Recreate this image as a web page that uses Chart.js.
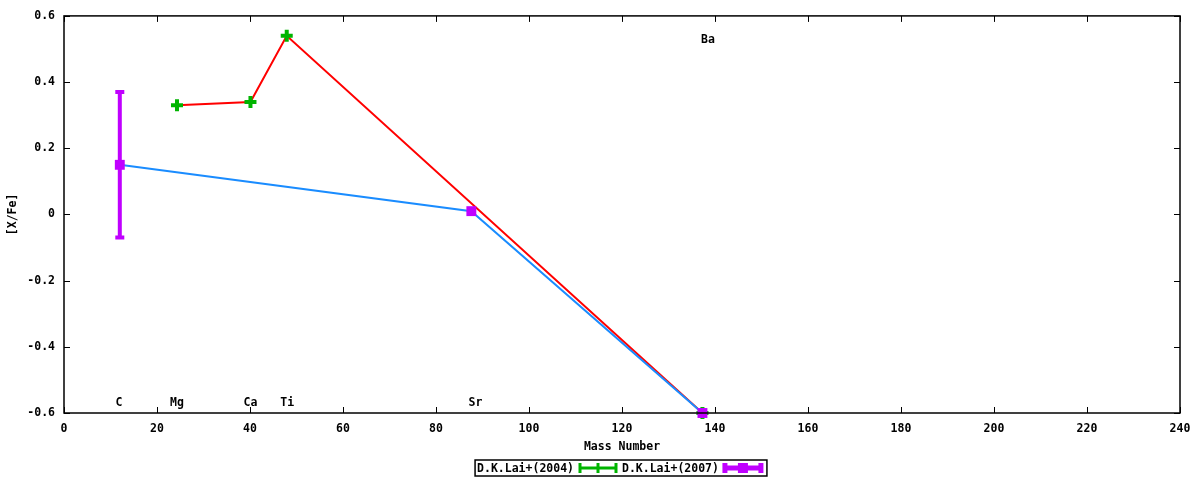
<!DOCTYPE html>
<html>
<head>
<meta charset="utf-8">
<script src="https://cdn.jsdelivr.net/npm/chart.js@4"></script>
<style>
  html, body { margin: 0; padding: 0; background: #fff; }
  #wrap { width: 1200px; height: 480px; }
</style>
</head>
<body>
<div id="wrap"><canvas id="abundChart" width="1200" height="480"></canvas></div>
<script>
// D.K.Lai+(2004)
let mass2004 = [24.3, 40.1, 47.9, 137.3];
let xfe2004 = [0.33, 0.34, 0.54, -0.6];
// D.K.Lai+(2007)
let mass2007 = [12.0, 87.6, 137.3];
let xfe2007 = [0.15, 0.01, -0.6];
let err2007 = [0.22, 0, 0];

// element labels
let labelNames = ["C", "Mg", "Ca", "Ti", "Sr", "Ba"];
let labelMass = [11.8, 24.3, 40.1, 48, 88.5, 138.5];
let labelY = [-0.57, -0.57, -0.57, -0.57, -0.57, 0.528];

let xTicks = [0, 20, 40, 60, 80, 100, 120, 140, 160, 180, 200, 220, 240];
let yTicks = [-0.6, -0.4, -0.2, 0, 0.2, 0.4, 0.6];

let FONT = "DejaVu Sans Mono";
let GREEN = "#00b400";
let RED = "#ff0000";
let PURPLE = "#c000ff";
let BLUE = "#1a8cff";

function toPoints(xs, ys) {
  return xs.map((x, i) => ({ x: x, y: ys[i] }));
}

// frame, inward ticks, error bars, element labels, legend
let gnuplotPlugin = {
  id: "gnuplotStyle",
  beforeDatasetsDraw(chart) {
    let ctx = chart.ctx;
    let xs = chart.scales.x;
    let ys = chart.scales.y;
    // error bars for 2007
    ctx.save();
    ctx.strokeStyle = PURPLE;
    ctx.lineWidth = 4;
    for (let i = 0; i < mass2007.length; i++) {
      if (!err2007[i]) continue;
      let px = xs.getPixelForValue(mass2007[i]);
      let top = ys.getPixelForValue(xfe2007[i] + err2007[i]);
      let bot = ys.getPixelForValue(xfe2007[i] - err2007[i]);
      ctx.beginPath();
      ctx.moveTo(px, top);
      ctx.lineTo(px, bot);
      ctx.moveTo(px - 4.5, top);
      ctx.lineTo(px + 4.5, top);
      ctx.moveTo(px - 4.5, bot);
      ctx.lineTo(px + 4.5, bot);
      ctx.stroke();
    }
    ctx.restore();
  },
  afterDraw(chart) {
    let ctx = chart.ctx;
    let a = chart.chartArea;
    let xs = chart.scales.x;
    let ys = chart.scales.y;
    ctx.save();
    ctx.strokeStyle = "#000";
    ctx.lineWidth = 1.5;
    ctx.strokeRect(a.left, a.top, a.right - a.left, a.bottom - a.top);
    ctx.beginPath();
    xTicks.forEach((t) => {
      let px = Math.round(xs.getPixelForValue(t)) + 0.5;
      ctx.moveTo(px, a.bottom);
      ctx.lineTo(px, a.bottom - 6);
      ctx.moveTo(px, a.top);
      ctx.lineTo(px, a.top + 6);
    });
    yTicks.forEach((t) => {
      let py = Math.round(ys.getPixelForValue(t)) + 0.5;
      ctx.moveTo(a.left, py);
      ctx.lineTo(a.left + 6, py);
      ctx.moveTo(a.right, py);
      ctx.lineTo(a.right - 6, py);
    });
    ctx.lineWidth = 1;
    ctx.stroke();

    // element labels
    ctx.fillStyle = "#000";
    ctx.font = "bold 11.5px " + FONT;
    ctx.textAlign = "center";
    ctx.textBaseline = "middle";
    for (let i = 0; i < labelNames.length; i++) {
      ctx.fillText(labelNames[i], xs.getPixelForValue(labelMass[i]), ys.getPixelForValue(labelY[i]));
    }

    // legend
    let entries = [
      { text: "D.K.Lai+(2004)", color: GREEN, width: 3, marker: "cross" },
      { text: "D.K.Lai+(2007)", color: PURPLE, width: 5, marker: "rect" },
    ];
    let sample = 36;
    let gap = 6;
    let total = 0;
    entries.forEach((e) => {
      e.tw = ctx.measureText(e.text).width;
      total += e.tw + gap + sample + gap;
    });
    let cx = (a.left + a.right) / 2;
    let y = 468;
    let x = cx - total / 2;
    ctx.lineWidth = 1.5;
    ctx.strokeStyle = "#000";
    ctx.strokeRect(x - 2, y - 8, total + 2, 16);
    ctx.textAlign = "left";
    entries.forEach((e) => {
      ctx.fillStyle = "#000";
      ctx.fillText(e.text, x, y + 1);
      let sx = x + e.tw + gap;
      ctx.strokeStyle = e.color;
      ctx.lineWidth = e.width;
      ctx.beginPath();
      ctx.moveTo(sx, y);
      ctx.lineTo(sx + sample, y);
      ctx.moveTo(sx, y - 5);
      ctx.lineTo(sx, y + 5);
      ctx.moveTo(sx + sample, y - 5);
      ctx.lineTo(sx + sample, y + 5);
      ctx.stroke();
      let mx = sx + sample / 2;
      ctx.fillStyle = e.color;
      if (e.marker === "rect") {
        ctx.fillRect(mx - 5, y - 5, 10, 10);
      } else {
        ctx.lineWidth = 3;
        ctx.beginPath();
        ctx.moveTo(mx, y - 5);
        ctx.lineTo(mx, y + 5);
        ctx.stroke();
      }
      x = sx + sample + gap;
    });
    ctx.restore();
  },
};

let ctx = document.getElementById("abundChart").getContext("2d");

let myChart = new Chart(ctx, {
  type: "scatter",
  data: {
    datasets: [
      {
        label: "D.K.Lai+(2004)",
        data: toPoints(mass2004, xfe2004),
        showLine: true,
        clip: false,
        borderColor: RED,
        borderWidth: 2,
        pointStyle: "cross",
        pointRadius: 6,
        pointBorderWidth: 4,
        pointBorderColor: GREEN,
        pointBackgroundColor: GREEN,
        order: 1,
      },
      {
        label: "D.K.Lai+(2007)",
        data: toPoints(mass2007, xfe2007),
        showLine: true,
        clip: false,
        borderColor: BLUE,
        borderWidth: 2,
        pointStyle: "rect",
        pointRadius: 7,
        pointBorderWidth: 0,
        pointBorderColor: PURPLE,
        pointBackgroundColor: PURPLE,
        order: 0,
      },
    ],
  },
  options: {
    responsive: false,
    animation: false,
    layout: { padding: { left: 6, right: 20, top: 14, bottom: 26 } },
    plugins: {
      legend: { display: false },
      tooltip: { enabled: false },
    },
    scales: {
      x: {
        type: "linear",
        min: 0,
        max: 240,
        afterBuildTicks: (scale) => {
          scale.ticks = xTicks.map((v) => ({ value: v }));
        },
        afterFit: (scale) => {
          scale.height = 41;
        },
        grid: { display: false, drawTicks: false },
        border: { display: false },
        ticks: {
          color: "#000",
          padding: 9,
          maxRotation: 0,
          font: { family: FONT, size: 11.5, weight: "bold" },
        },
        title: {
          display: true,
          text: "Mass Number",
          color: "#000",
          padding: { top: 4, bottom: 0 },
          font: { family: FONT, size: 11.5, weight: "bold" },
        },
      },
      y: {
        type: "linear",
        min: -0.6,
        max: 0.6,
        afterBuildTicks: (scale) => {
          scale.ticks = yTicks.map((v) => ({ value: v }));
        },
        afterFit: (scale) => {
          scale.width = 58;
        },
        grid: { display: false, drawTicks: false },
        border: { display: false },
        ticks: {
          color: "#000",
          padding: 9,
          font: { family: FONT, size: 11.5, weight: "bold" },
          callback: (v) => (v === 0 ? "0" : v.toFixed(1)),
        },
        title: {
          display: true,
          text: "[X/Fe]",
          color: "#000",
          padding: { top: 0, bottom: 0 },
          font: { family: FONT, size: 11.5, weight: "bold" },
        },
      },
    },
  },
  plugins: [gnuplotPlugin],
});
</script>
</body>
</html>
